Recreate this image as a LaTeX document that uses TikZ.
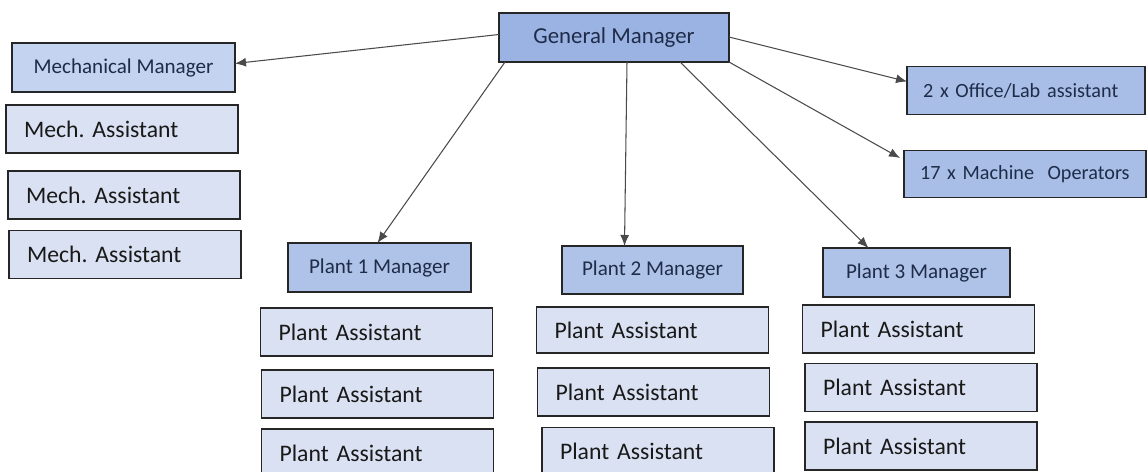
\documentclass[tikz,border=0pt]{standalone}
\usepackage{fontspec}
\setmainfont{Carlito}
\usepackage{tikz}
\usetikzlibrary{arrows,arrows.meta,positioning,calc}
\definecolor{gmColor}{HTML}{9BB3E2}
\definecolor{pmColor}{HTML}{AFC3E8}
\definecolor{mmColor}{HTML}{C4D3EF}
\definecolor{asColor}{HTML}{DAE1F2}
\definecolor{stColor}{HTML}{A9BEE6}
\definecolor{txColor}{HTML}{1E2C4A}
\definecolor{lnColor}{HTML}{4A4A4A}
\frenchspacing
\tikzset{
	box/.style={draw=black!85, line width=0.8pt, outer sep=0},
	mgr/.style={box, fill=pmColor, text=txColor, font=\fontsize{12}{14}\selectfont, minimum height=0.98cm},
	asst/.style={box, fill=asColor, text=black!90, font=\fontsize{13.5}{16}\selectfont, minimum height=0.96cm,
		inner xsep=0.36cm, text width=3.92cm, align=left},
	staff/.style={box, fill=stColor, text=txColor, font=\fontsize{11.5}{14}\selectfont, minimum height=0.95cm,
		inner xsep=0.32cm, align=left}
}

\begin{document}
\begin{tikzpicture}[x=0.02cm, y=-0.02cm, ->, >={Latex[length=2.2mm,width=1.8mm]}, lnColor, line width=0.6pt]
\useasboundingbox (0,0) rectangle (1147,472);
\node[mgr, fill=gmColor, minimum width=4.6cm, font=\fontsize{13}{15}\selectfont] (gm) at (614, 37.5) {General Manager};
% mechanical side
\node[mgr, fill=mmColor, minimum width=4.46cm] (mm) at (123.5, 67.5) {Mechanical Manager};
\node[asst] (ma1) at (122, 129) {Mech. Assistant};
\node[asst] (ma2) at (124, 195) {Mech. Assistant};
\node[asst] (ma3) at (125, 254.5) {Mech. Assistant};
% staff
\node[staff, text width=4.12cm] (ol) at (1026, 90.5) {2 x Office/Lab assistant};
\node[staff, text width=4.2cm] (mo) at (1025, 174) {17 x Machine\ \ Operators};
% plant managers
\node[mgr, minimum width=3.66cm] (p1) at (379.5, 267.5) {Plant 1 Manager};
\node[mgr, minimum width=3.62cm, minimum height=0.96cm] (p2) at (652.5, 270) {Plant 2 Manager};
\node[mgr, minimum width=3.74cm] (p3) at (916.5, 272.5) {Plant 3 Manager};
% plant assistants
\node[asst] (p1a) at (376.5, 332) {Plant Assistant};
\node[asst] (p1b) at (377.5, 394) {Plant Assistant};
\node[asst] (p1c) at (377.5, 453) {Plant Assistant};
\node[asst, minimum height=0.92cm] (p2a) at (652.5, 330) {Plant Assistant};
\node[asst] (p2b) at (653.5, 392) {Plant Assistant};
\node[asst] (p2c) at (658, 451.5) {Plant Assistant};
\node[asst] (p3a) at (918.5, 329) {Plant Assistant};
\node[asst] (p3b) at (921, 387.5) {Plant Assistant};
\node[asst] (p3c) at (921, 446) {Plant Assistant};
% reporting lines
\path ($(gm.west)+(0,-3)$) edge ($(mm.east)+(0,-4)$);
\path ($(gm.south west)+(6,0)$) edge ($(p1.north)+(-2,0)$);
\path ($(gm.south)+(13,0)$) edge ($(p2.north)+(-28,0)$);
\path ($(gm.south east)+(-49,0)$) edge ($(p3.north)+(-48,0)$);
\path ($(gm.east)+(0,-0.5)$) edge ($(ol.west)+(0,-9)$);
\path (gm.south east) edge ($(mo.west)+(-4,-16)$);
\end{tikzpicture}
\end{document}
